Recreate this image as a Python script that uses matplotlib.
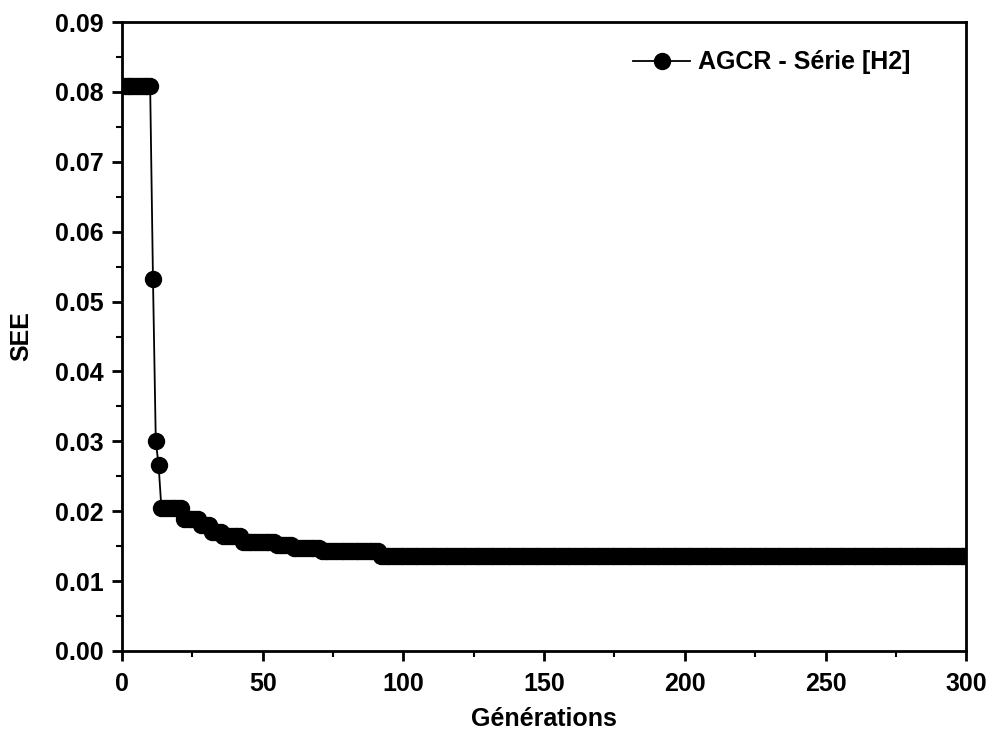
import numpy as np
import matplotlib
matplotlib.use('Agg')
import matplotlib.pyplot as plt
from matplotlib.ticker import MultipleLocator

# SEE per generation: (first generation, value)
step_start = [1, 11, 12, 13, 14, 22, 28, 32, 36, 43, 55, 61, 71, 92]
step_value = [0.0808, 0.0533, 0.0300, 0.0266, 0.0204, 0.0189, 0.0180, 0.0170,
              0.0164, 0.0156, 0.0152, 0.0148, 0.0143, 0.0136]
last_gen = 300
series_label = 'AGCR - Série [H2]'

gens = np.arange(1, last_gen + 1)
runs = np.diff(step_start + [last_gen + 1])
see = np.repeat(step_value, runs)

plt.rcParams['font.family'] = ['Liberation Sans', 'DejaVu Sans']
plt.rcParams['font.weight'] = 'bold'
fs = 18

fig = plt.figure(figsize=(9.92, 7.36), dpi=100)
ax = fig.add_axes([0.123, 0.1155, 0.851, 0.8545])

ax.plot(gens, see, color='black', lw=1.3, marker='o', markersize=11.5,
        label=series_label)

ax.set_xlim(0, 300)
ax.set_ylim(0, 0.09)
ax.xaxis.set_major_locator(MultipleLocator(50))
ax.xaxis.set_minor_locator(MultipleLocator(25))
ax.yaxis.set_major_locator(MultipleLocator(0.01))
ax.yaxis.set_minor_locator(MultipleLocator(0.005))
ax.yaxis.set_major_formatter(plt.FuncFormatter(lambda v, p: '%.2f' % v))

for s in ax.spines.values():
    s.set_linewidth(2)
ax.tick_params(which='major', direction='out', length=7, width=2, labelsize=fs)
ax.tick_params(which='minor', direction='out', length=4, width=1.5)
ax.tick_params(axis='x', which='major', pad=8)
ax.tick_params(axis='y', which='major', pad=6)
ax.tick_params(top=False, right=False, which='both')
for lab in ax.get_xticklabels() + ax.get_yticklabels():
    lab.set_fontweight('bold')

ax.set_xlabel('Générations', fontsize=fs, fontweight='bold', labelpad=8)
ax.set_ylabel('SEE', fontsize=fs, fontweight='bold', labelpad=16)

ax.legend(loc='center left', bbox_to_anchor=(0.605, 0.936), frameon=False,
          handlelength=2.3, handletextpad=0.3, borderpad=0,
          borderaxespad=0, prop={'weight': 'bold', 'size': fs})

fig.savefig('out.png', dpi=100)
